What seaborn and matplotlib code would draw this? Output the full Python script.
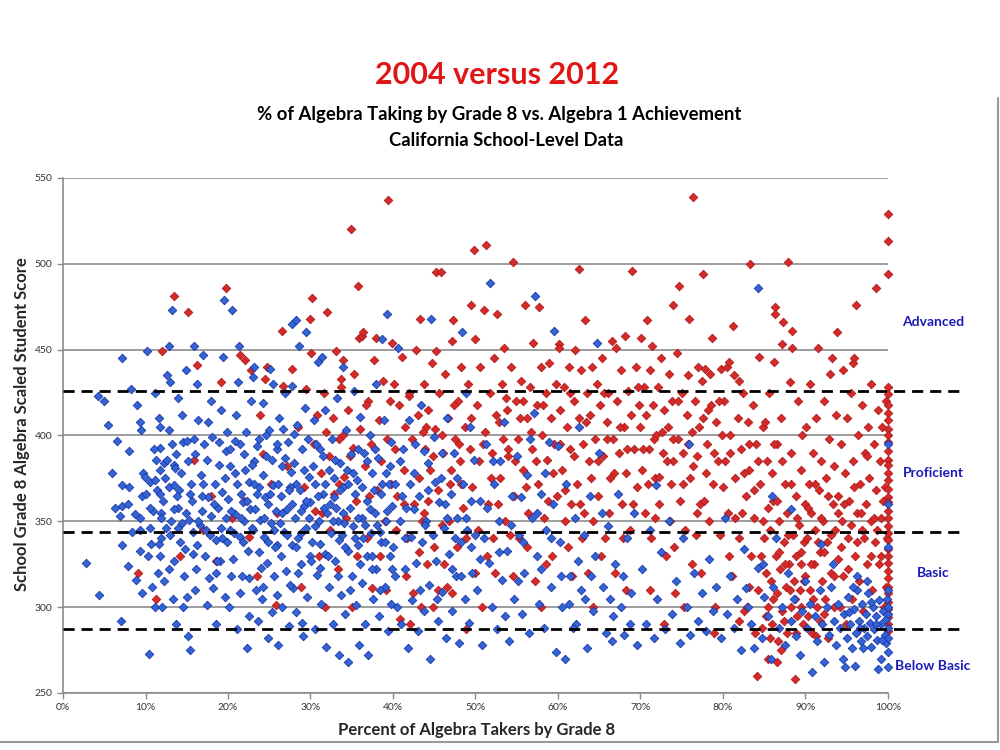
import numpy as np
import pandas as pd
import matplotlib
matplotlib.use("Agg")
import matplotlib.pyplot as plt
from matplotlib.lines import Line2D
from matplotlib.ticker import FuncFormatter
import seaborn as sns

# 2004 schools (blue), (percent taking algebra by grade 8, mean scaled score)
blue_0_10 = [(2.8,326),(4.4,307),(4.2,423),(5.5,406),(5.9,378),(6.3,358),(6.9,353),(7.1,359),(7.2,371),(7.1,445),
             (7.1,336),(7.0,292),(8.0,391),(8.0,370),(7.9,360),(7.9,324),(8.7,354),(9.3,352),(9.3,408),(9.4,403),
             (9.3,345),(9.3,333),(9.6,365),(9.7,378),(9.9,376),(8.4,344),(9.0,418),(8.8,316),(6.6,397),(9.6,308),
             (5.0,420),(8.2,427)]
blue_10_20 = [(10.0,366),(10.2,449),(10.5,346),(10.7,337),(10.3,330),(10.5,373),(10.4,273),(10.8,312),(11.1,374),(11.4,368),
              (11.3,386),(11.6,337),(11.7,330),(11.7,366),(11.8,405),(11.7,393),(11.8,380),(11.9,355),(11.9,352),(11.2,300),
              (11.5,320),(11.1,425),(12.3,384),(12.6,386),(12.6,435),(12.8,370),(12.8,403),(12.8,452),(12.2,315),(12.5,346),
              (12.0,300),(13.0,431),(13.2,395),(13.2,473),(13.4,371),(13.4,383),(13.6,381),(13.7,389),(13.0,342),(13.5,327),
              (13.9,358),(13.3,305),(14.1,368),(14.4,349),(14.2,338),(14.6,396),(14.9,438),(14.7,318),(14.4,412),(14.8,334),
              (15.0,397),(15.2,283),(15.4,275),(15.0,306),(15.3,351),(15.6,362),(15.9,452),(15.8,344),(15.5,372),(16.0,389),
              (16.2,336),(16.4,409),(16.1,322),(16.7,377),(16.6,348),(16.9,356),(17.0,447),(17.1,395),(17.2,330),(17.4,301),
              (17.6,364),(17.8,342),(17.9,420),(17.5,386),(18.0,353),(18.2,311),(18.4,372),(18.1,399),(18.6,339),(18.8,358),
              (18.5,290),(18.9,383),(19.1,346),(19.0,327),(19.4,446),(19.5,479),(19.3,367),(19.6,306),(19.7,391),(19.8,352),
              (19.2,415),(19.9,338),(16.3,430),(17.7,317),(14.0,422),(13.7,290)]
blue_20_30 = [(20.0,363),(20.2,345),(20.5,473),(20.3,392),(20.1,300),(20.6,328),(20.8,378),(20.9,354),(21.0,412),(21.2,431),
              (21.3,452),(21.1,287),(21.4,341),(21.6,366),(21.7,318),(21.9,389),(22.0,350),(22.2,402),(22.3,276),(22.4,333),
              (22.5,373),(22.7,357),(22.6,295),(22.8,420),(23.0,434),(23.1,440),(23.0,345),(23.2,385),(23.4,310),(23.5,366),
              (23.7,332),(23.8,398),(23.9,351),(24.1,305),(24.2,377),(24.4,341),(24.3,419),(24.6,388),(24.8,282),(24.7,326),
              (24.9,360),(25.1,439),(25.0,403),(25.2,349),(25.3,297),(25.5,430),(25.4,371),(25.6,318),(25.8,356),(25.9,392),
              (26.0,336),(26.1,278),(26.2,410),(26.4,365),(26.5,300),(26.6,382),(26.8,344),(26.9,425),(27.0,321),(27.1,357),
              (27.3,396),(27.4,289),(27.5,370),(27.7,465),(27.8,429),(27.7,336),(27.9,311),(28.0,384),(28.2,467),(28.1,352),
              (28.3,297),(28.4,406),(28.6,452),(28.5,340),(28.7,368),(28.9,325),(29.0,392),(29.1,283),(29.2,359),(29.4,460),
              (29.3,416),(29.5,346),(29.6,306),(29.8,376),(29.9,330),(29.7,398),(20.4,318),(21.8,361),(22.9,383),(24.5,364),
              (26.3,349),(27.6,379),(28.8,356),(23.6,292),(25.7,335),(21.5,395),(26.7,404),(29.0,291)]
blue_30_40 = [(30.0,361),(30.2,338),(30.4,409),(30.5,287),(30.6,372),(30.9,443),(30.8,319),(31.0,350),(31.2,392),(31.4,446),
              (31.3,302),(31.5,366),(31.7,331),(31.8,415),(31.9,277),(32.0,355),(32.2,380),(32.3,312),(32.5,343),(32.6,398),
              (32.7,290),(32.9,364),(33.0,327),(33.2,422),(33.3,350),(33.4,272),(33.6,384),(33.7,307),(33.9,440),(33.8,342),
              (34.0,370),(34.2,296),(34.3,403),(34.5,333),(34.6,268),(34.8,358),(34.9,389),(35.0,318),(35.2,347),(35.3,426),
              (35.5,301),(35.6,374),(35.8,336),(35.9,278),(36.0,411),(36.2,352),(36.3,314),(36.5,390),(36.6,290),(36.8,362),
              (36.9,330),(37.0,272),(37.2,400),(37.3,343),(37.5,378),(37.6,305),(37.8,355),(37.9,430),(38.0,322),(38.2,387),
              (38.3,295),(38.5,366),(38.7,456),(38.6,338),(38.9,409),(39.0,312),(39.1,350),(39.3,471),(39.2,378),(39.4,286),
              (39.6,330),(39.7,396),(39.9,359),(39.8,302),(30.7,395),(31.6,358),(32.8,375),(33.5,339),(34.4,380),(35.4,366),
              (36.4,340),(37.4,322),(38.4,344),(39.5,372),(31.1,323),(33.1,358),(35.7,352),(37.7,368),(34.1,349)]
blue_dense_10_40 = [(10.9,356),(11.0,392),(11.6,410),(12.1,362),(12.4,375),(12.9,322),(13.1,350),(13.8,365),(14.3,378),(14.5,300),
                    (14.9,355),(15.1,385),(15.7,331),(15.9,398),(16.4,350),(16.8,365),(17.3,345),(17.6,408),(18.3,360),(18.7,327),
                    (18.9,396),(19.3,340),(19.6,375),(19.9,402),(20.2,382),(20.4,356),(20.7,343),(20.9,397),(21.1,372),(21.4,308),
                    (21.8,338),(22.1,380),(22.3,362),(22.6,317),(22.9,346),(23.3,357),(23.5,394),(23.8,370),(24.0,323),(24.4,352),
                    (24.6,400),(24.8,338),(25.1,366),(25.3,386),(25.6,345),(25.9,307),(26.1,372),(26.4,330),(26.6,355),(26.9,387),
                    (27.2,342),(27.5,313),(27.8,360),(28.0,401),(28.3,372),(28.5,320),(28.9,343),(29.2,380),(29.5,362),(29.8,352),
                    (30.1,327),(30.3,382),(30.6,347),(30.9,365),(31.2,337),(31.5,388),(31.8,372),(32.1,330),(32.4,360),(32.7,350),
                    (33.0,386),(33.3,318),(33.6,368),(33.9,355),(34.2,335),(34.5,372),(34.8,310),(35.1,378),(35.4,340),(35.7,392),
                    (36.0,325),(36.3,370),(36.6,348),(36.9,385),(37.2,357),(37.5,330),(37.8,392),(38.1,348),(38.4,310),(38.7,372),
                    (39.0,338),(39.3,356),(39.6,382),(39.9,322),(17.0,372),(18.5,320),(14.0,346),(11.9,340),(16.0,310),(13.4,357),
                    (10.6,358),(15.4,366),(21.6,352),(23.1,372),(26.0,395),(27.4,368),(28.2,335),(24.2,312)]
blue_40_50 = [(40.0,335),(40.3,372),(40.6,451),(40.5,300),(40.8,350),(41.0,290),(41.2,392),(41.4,322),(41.6,358),(41.8,276),
              (42.0,409),(42.2,341),(42.3,304),(42.6,378),(42.8,326),(43.0,286),(43.2,365),(43.4,418),(43.5,338),(43.8,298),
              (44.0,350),(44.2,384),(44.4,313),(44.6,468),(44.5,270),(44.8,342),(45.0,399),(45.2,327),(45.4,292),(45.6,361),
              (45.8,375),(46.0,309),(46.2,346),(46.4,282),(46.6,410),(46.8,331),(47.0,366),(47.2,298),(47.4,390),(47.6,318),
              (47.8,352),(48.0,279),(48.2,338),(48.4,460),(48.5,372),(48.7,305),(48.9,425),(49.0,345),(49.2,291),(49.4,362),
              (49.6,320),(49.8,386),(41.1,365),(42.5,357),(43.7,391),(45.1,373),(46.3,360),(47.5,340),(49.5,335)]
blue_extra_40_70 = [(40.2,318),(40.9,385),(41.5,340),(42.1,372),(42.7,395),(43.3,310),(43.9,348),(44.3,368),(45.3,305),(45.9,390),
                    (46.5,352),(47.1,322),(47.7,375),(48.3,318),(48.8,352),(49.3,405),(50.0,342),(50.6,328),(51.4,358),(52.1,385),
                    (52.8,332),(53.6,295),(54.3,348),(55.1,315),(55.8,338),(56.6,398),(57.5,355),(58.4,378),(59.1,340),(60.4,318),
                    (61.3,302),(62.2,290),(63.3,305),(64.0,318),(65.3,355),(66.7,295),(67.9,318),(68.7,290)]
blue_50_60 = [(50.2,310),(50.5,362),(50.8,278),(51.0,340),(51.3,395),(51.7,489),(51.6,326),(52.0,300),(52.3,372),(52.6,287),
              (52.9,350),(53.2,316),(53.5,408),(53.8,333),(54.1,280),(54.4,365),(54.7,305),(55.0,388),(55.3,342),(55.6,296),
              (55.9,320),(56.2,377),(56.5,285),(56.8,352),(57.2,481),(57.1,413),(57.4,330),(57.7,302),(58.0,366),(58.3,288),
              (58.6,345),(58.9,396),(59.2,312),(59.5,461),(59.4,360),(59.8,274),(53.0,385),(55.5,364),(57.9,322)]
blue_60_70 = [(60.2,338),(60.5,300),(60.8,270),(61.0,372),(61.4,318),(61.8,288),(62.1,352),(62.5,405),(62.8,310),(63.1,342),
              (63.5,276),(63.9,365),(64.2,298),(64.7,454),(64.5,330),(65.0,390),(65.4,312),(65.8,285),(66.1,347),(66.5,280),
              (66.9,325),(67.3,366),(67.6,300),(68.0,284),(68.4,340),(68.8,308),(69.2,355),(69.6,278),(60.0,394),(62.4,327),
              (66.3,305)]
blue_70_80 = [(70.2,322),(70.7,290),(71.1,345),(71.6,282),(72.0,305),(72.5,332),(73.0,287),(73.4,350),(73.8,296),(74.3,315),
              (74.8,279),(75.2,340),(75.6,300),(76.0,284),(76.5,320),(77.0,292),(77.4,308),(77.9,286),(78.3,328),(78.8,298),
              (79.2,312),(79.7,282),(75.9,395),(71.9,371)]
blue_80_90 = [(80.2,352),(80.5,296),(80.9,318),(81.3,288),(81.7,305),(82.2,275),(82.5,334),(83.0,300),(83.4,290),(83.8,276),
              (84.2,486),(84.3,323),(84.7,282),(85.0,306),(85.4,295),(85.8,270),(86.1,312),(86.4,340),(86.8,288),(87.2,300),
              (87.5,278),(87.9,320),(88.2,292),(88.6,305),(88.9,283),(89.3,272),(89.6,298),(89.9,315),(85.9,365),(88.3,357),
              (82.8,311),(84.9,325)]
blue_90_100 = [(90.2,288),(90.5,302),(90.8,262),(91.1,295),(91.4,280),(91.7,310),(92.0,290),(92.3,268),(92.6,300),(92.9,284),
               (93.1,312),(93.4,292),(93.7,278),(94.0,302),(94.2,288),(94.5,270),(94.7,296),(95.0,282),(95.2,306),(95.4,290),
               (95.6,276),(95.9,299),(96.1,285),(96.3,310),(96.5,292),(96.7,280),(96.9,302),(97.1,288),(97.3,296),(97.5,283),
               (97.6,308),(97.8,291),(98.0,277),(98.2,300),(98.3,287),(98.5,295),(98.7,281),(98.9,304),(99.1,290),(99.2,270),
               (99.4,298),(99.6,284),(99.7,293),(99.8,279),(99.9,305),(100,288),(100,296),(100,282),(100,300),(100,274),
               (100,310),(100,265),(100,335),(100,360),(100,395),(94.8,265),(96.0,266),(98.8,264),(97.4,315),(93.3,325),
               (91.9,337),(95.3,297),(96.6,288),(97.9,303),(98.6,290),(99.3,281),(96.2,318),(97.0,276),(95.7,312)]

# 2012 schools (red)
red_0_30 = [(9.1,320),(11.3,305),(12.0,449),(13.5,481),(15.1,472),(16.2,441),(15.9,386),(17.0,345),(18.6,327),(19.2,431),
            (19.8,486),(21.5,447),(22.1,444),(22.8,438),(24.5,433),(24.7,440),(21.9,362),(23.5,318),(24.2,389),(25.8,301),
            (26.5,461),(26.7,429),(27.8,439),(28.5,405),(29.5,427),(22.6,341),(26.0,355),(27.2,382),(28.9,312),(29.2,370),
            (20.5,352),(25.2,372),(23.9,412),(18.0,365),(14.2,330)]
red_30_40 = [(30.0,468),(30.1,448),(30.2,480),(30.4,395),(30.6,356),(30.8,412),(31.0,330),(31.3,378),(31.6,425),(31.8,300),
             (32.0,472),(32.2,388),(32.4,345),(32.7,410),(32.9,366),(33.1,449),(33.3,322),(33.5,398),(33.7,433),(33.7,428),
             (33.9,444),(34.1,376),(34.3,352),(34.6,415),(34.9,520),(34.8,388),(35.0,300),(35.3,436),(35.5,362),(35.8,487),
             (35.9,457),(36.0,404),(36.2,458),(36.4,460),(36.6,382),(36.8,340),(37.0,420),(37.3,395),(37.5,311),(37.7,444),
             (37.9,457),(38.1,368),(38.3,409),(38.6,385),(38.8,432),(39.0,350),(39.4,537),(39.3,398),(39.6,420),(39.9,454),
             (39.8,372),(31.9,402),(34.0,400),(36.7,418),(38.4,330),(35.2,393)]
red_40_50 = [(40.1,430),(40.3,392),(40.5,365),(40.7,418),(40.9,293),(41.1,446),(41.3,380),(41.5,405),(41.7,340),(41.9,423),
             (42.1,290),(42.3,398),(42.5,360),(42.8,450),(43.0,412),(43.2,375),(43.3,468),(43.5,350),(43.7,430),(43.9,392),
             (44.1,325),(44.3,415),(44.5,380),(44.7,442),(44.9,300),(45.1,404),(45.2,449),(45.2,495),(45.8,495),(45.4,368),
             (45.6,425),(45.9,348),(46.1,390),(46.3,436),(46.5,312),(46.7,410),(46.9,372),(47.1,455),(47.3,467),(47.5,398),
             (47.7,335),(47.9,420),(48.1,385),(48.3,440),(48.5,358),(48.7,405),(48.9,287),(49.1,430),(49.4,476),(49.3,392),
             (49.6,370),(49.8,508),(50.0,456),(42.0,425),(44.0,405),(46.0,400),(48.0,395),(43.8,355),(47.0,380)]
red_50_60 = [(50.2,418),(50.4,385),(50.6,440),(50.8,300),(51.0,473),(51.3,511),(51.2,402),(51.5,360),(51.8,425),(52.0,390),
             (52.2,445),(52.4,320),(52.6,471),(52.8,408),(53.0,375),(53.2,430),(53.4,451),(53.6,350),(53.8,415),(54.0,392),
             (54.3,440),(54.5,501),(54.7,365),(54.9,420),(55.1,398),(55.3,340),(55.5,432),(55.7,380),(56.0,476),(56.2,410),
             (56.4,355),(56.6,428),(56.8,392),(57.0,454),(57.2,315),(57.4,418),(57.7,475),(57.6,372),(57.9,440),(58.1,400),
             (58.3,352),(58.5,425),(58.7,386),(58.9,442),(59.1,410),(59.3,330),(59.5,395),(59.7,430),(59.9,365),(52.5,412),
             (55.8,420),(53.9,388),(58.0,300)]
red_60_70 = [(60.1,453),(60.1,451),(60.3,415),(60.5,380),(60.7,428),(60.9,350),(61.1,405),(61.3,440),(61.5,392),(61.7,318),
             (61.9,420),(62.1,450),(62.3,372),(62.6,497),(62.5,410),(62.8,438),(63.0,395),(63.3,467),(63.2,355),(63.5,425),
             (63.7,385),(63.9,412),(64.1,440),(64.3,300),(64.5,398),(64.7,430),(64.9,365),(65.1,418),(65.3,445),(65.5,388),
             (65.7,340),(65.9,408),(66.1,425),(66.3,375),(66.5,455),(66.7,398),(67.0,451),(66.9,320),(67.2,420),(67.4,390),
             (67.6,438),(67.8,360),(68.1,458),(68.0,405),(68.3,378),(68.5,426),(68.7,345),(69.0,496),(68.9,412),(69.2,392),
             (69.4,440),(69.6,370),(69.8,418),(61.6,360),(64.0,375),(66.0,398),(68.2,310),(62.9,340)]
red_70_80 = [(70.0,405),(70.1,457),(70.2,380),(70.4,428),(70.6,355),(70.8,467),(70.7,412),(71.0,392),(71.2,438),(71.4,452),
             (71.3,340),(71.5,418),(71.7,375),(71.9,400),(72.1,428),(72.3,360),(72.5,445),(72.7,390),(72.9,415),(73.1,330),
             (73.3,405),(73.5,436),(73.7,372),(73.9,476),(73.8,420),(74.0,385),(74.2,308),(74.4,448),(74.7,487),(74.6,398),
             (74.8,362),(75.0,425),(75.2,390),(75.4,345),(75.6,412),(75.9,468),(75.8,435),(76.0,375),(76.2,402),(76.4,539),
             (76.3,325),(76.6,420),(76.8,388),(77.0,440),(77.2,360),(77.5,432),(77.6,494),(77.6,410),(77.8,439),(77.9,378),
             (78.1,395),(78.4,436),(78.3,350),(78.7,457),(78.6,418),(78.8,372),(79.0,300),(79.2,408),(79.4,385),(79.7,439),
             (79.6,342),(79.9,400),(71.1,310),(72.8,290),(75.3,300),(77.3,320),(78.9,285),(73.6,350),(76.9,355)]
red_80_90 = [(80.1,420),(80.5,440),(80.7,443),(80.3,385),(80.6,355),(80.9,400),(81.2,464),(81.3,435),(81.1,318),(81.5,375),
             (81.8,410),(82.0,340),(82.2,392),(82.4,425),(82.6,298),(82.8,365),(83.0,408),(83.3,500),(83.2,380),(83.4,330),
             (83.6,418),(83.8,352),(84.0,395),(84.4,446),(84.2,310),(84.5,372),(84.7,288),(84.9,405),(85.0,340),(85.2,320),
             (85.3,385),(85.5,300),(85.6,425),(85.7,345),(85.8,315),(86.0,290),(86.1,362),(86.3,475),(86.3,471),(86.2,443),
             (86.4,330),(86.5,395),(86.6,308),(86.7,280),(86.8,350),(86.9,322),(87.1,453),(87.0,410),(87.2,298),(87.3,466),
             (87.4,338),(87.5,372),(87.6,312),(87.7,285),(87.9,501),(87.8,355),(88.0,325),(88.1,431),(88.2,300),(88.4,461),
             (88.4,451),(88.3,390),(88.5,342),(88.6,315),(88.7,258),(88.8,365),(88.9,330),(89.0,295),(89.1,420),(89.2,348),
             (89.3,310),(89.4,380),(89.5,325),(89.6,400),(89.7,290),(89.8,338),(89.9,360),(85.4,270),(86.5,268),(87.0,275),
             (84.1,260),(83.9,285),(82.9,300),(81.9,292)]
red_90_100 = [(90.0,318),(90.1,405),(90.2,340),(90.3,295),(90.4,372),(90.5,430),(90.6,310),(90.7,355),(90.8,285),(90.9,390),
              (91.0,325),(91.2,345),(91.3,410),(91.5,451),(91.4,300),(91.6,368),(91.7,332),(91.8,292),(91.9,385),(92.0,315),
              (92.1,350),(92.3,420),(92.4,305),(92.5,375),(92.6,338),(92.7,282),(92.8,398),(93.0,436),(93.2,445),(93.1,320),
              (93.3,360),(93.4,300),(93.5,382),(93.6,345),(93.8,460),(93.7,412),(93.9,328),(94.0,365),(94.2,300),(94.3,395),
              (94.5,438),(94.4,350),(94.6,318),(94.8,378),(94.9,290),(95.0,410),(95.2,340),(95.3,362),(95.5,425),(95.6,305),
              (95.8,442),(95.9,445),(95.7,385),(96.1,476),(96.0,330),(96.2,355),(96.4,400),(96.5,315),(96.6,372),(96.8,418),
              (96.9,345),(97.0,298),(97.2,390),(97.3,360),(97.4,325),(97.6,405),(97.7,375),(97.9,350),(98.0,430),(98.1,310),
              (98.3,395),(98.5,486),(98.4,338),(98.6,368),(98.8,415),(98.9,325),(99.0,385),(99.2,352),(99.3,405),(99.5,300),
              (99.6,370),(99.8,420),(99.9,340)]
red_dense_30_100 = [(40.4,345),(41.6,318),(42.4,308),(43.1,332),(43.6,402),(44.2,362),(44.8,388),(45.5,310),(46.2,325),(46.8,350),
                    (47.4,418),(48.2,372),(48.8,340),(49.5,410),(50.3,345),(50.9,395),(51.4,330),(51.9,375),(52.7,360),(53.3,398),
                    (53.7,422),(54.2,342),(54.8,385),(55.4,410),(56.1,370),(56.7,402),(57.3,385),(58.2,418),(58.8,362),(59.4,378),
                    (60.2,395),(60.8,368),(61.4,425),(62.0,388),(62.7,360),(63.4,408),(64.2,350),(64.8,385),(65.6,425),(66.2,355),
                    (66.8,378),(67.5,405),(68.4,392),(69.1,360),(69.7,428),(70.3,392),(70.9,372),(71.6,398),(72.2,376),(72.6,402),
                    (73.2,385),(73.9,398),(74.5,420),(75.1,372),(75.7,395),(76.4,382),(77.1,405),(77.7,362),(78.2,415),(78.9,390),
                    (79.5,420),(80.0,370),(80.8,390),(81.4,352),(81.9,432),(82.5,378),(83.1,395),(83.7,368),(84.3,385),(84.8,350),
                    (85.1,408),(85.5,358),(85.9,378),(86.2,395),(86.6,362),(87.1,385),(87.5,325),(87.9,342),(88.3,372),(88.7,305),
                    (89.0,352),(89.4,332),(89.8,315),(90.3,358),(90.7,325),(91.1,372),(91.5,338),(91.9,352),(92.3,332),(92.7,365),
                    (93.1,342),(93.5,318),(93.9,355),(94.3,335),(94.7,360),(95.1,322),(95.5,348),(95.9,370),(96.3,338),(96.7,355),
                    (97.1,340),(97.5,388),(97.9,330),(98.3,352),(98.7,345),(99.1,330),(99.4,362),(99.7,312),(85.2,295),(86.1,305),
                    (87.4,292),(88.1,310),(89.5,300),(90.9,305),(92.2,296),(86.8,332),(88.9,285),(91.3,283),(85.7,282),(84.6,330),
                    (83.2,312),(80.7,330),(82.3,355),(76.7,342),(74.1,335),(71.8,352),(67.9,340),(65.2,330),(63.6,320),(61.2,335),
                    (58.5,325),(56.3,335),(54.6,318),(52.1,340),(49.9,320),(47.2,308),(45.0,335),(43.4,300),(41.3,360),(39.2,310),
                    (37.1,365),(35.6,330),(33.4,372),(31.4,355)]
red_100 = [(100,529),(100,513),(100,494),(100,428),(100,424),(100,418),(100,413),(100,409),(100,404),(100,400),(100,396),
           (100,391),(100,386),(100,383),(100,378),(100,374),(100,369),(100,364),(100,361),(100,356),(100,352),(100,347),
           (100,343),(100,339),(100,334),(100,330),(100,326),(100,321),(100,317),(100,312),(100,308),(100,303),(100,299),
           (100,294),(100,290),(100,286)]

# performance level cut scores and labels
cut_scores = [426, 344, 287]
level_labels = ["Advanced", "Proficient", "Basic", "Below Basic"]
level_label_y = [466, 378, 320, 266]

blue = pd.DataFrame(blue_0_10 + blue_10_20 + blue_20_30 + blue_30_40 + blue_dense_10_40 + blue_40_50 +
                    blue_extra_40_70 + blue_50_60 + blue_60_70 + blue_70_80 + blue_80_90 + blue_90_100,
                    columns=["pct", "score"])
red = pd.DataFrame(red_0_30 + red_30_40 + red_40_50 + red_50_60 + red_60_70 + red_70_80 +
                   red_80_90 + red_90_100 + red_dense_30_100 + red_100, columns=["pct", "score"])

sns.set_style("white")
plt.rcParams["font.family"] = ["Lato", "DejaVu Sans"]

fig = plt.figure(figsize=(10, 7.5), dpi=100)
ax = fig.add_axes([0.063, 0.076, 0.825, 0.6867])

sns.scatterplot(data=red, x="pct", y="score", ax=ax, marker="D", s=19, color="#d42a2a",
                edgecolor="#b01c1c", linewidth=0.6, clip_on=False, zorder=3)
sns.scatterplot(data=blue, x="pct", y="score", ax=ax, marker="D", s=19, color="#3464d4",
                edgecolor="#1a36a8", linewidth=0.6, clip_on=False, zorder=4)

ax.set_xlim(0, 100)
ax.set_ylim(250, 550)
ax.set_xticks(np.arange(0, 101, 10))
ax.set_yticks(np.arange(250, 551, 50))
ax.xaxis.set_major_formatter(FuncFormatter(lambda v, p: f"{int(v)}%"))
ax.grid(axis="y", color="#8c8c8c", linewidth=1.2)
ax.grid(axis="x", visible=False)
for side in ["top", "right"]:
    ax.spines[side].set_visible(False)
for side in ["left", "bottom"]:
    ax.spines[side].set_color("#8c8c8c")
    ax.spines[side].set_linewidth(1.2)
ax.tick_params(axis="both", which="major", length=4, width=1, color="#8c8c8c",
               labelsize=7.5, labelcolor="#333333", direction="out", left=True, bottom=True)
ax.set_xlabel("")
ax.set_ylabel("")

for c in cut_scores:
    ax.axhline(c, xmin=0, xmax=1.09, color="black", linewidth=2, dashes=(4, 2.5),
               clip_on=False, zorder=5)

tr = ax.get_yaxis_transform()
for lab, yv in zip(level_labels, level_label_y):
    ax.text(1.0545, yv, lab, transform=tr, ha="center", va="center",
            fontsize=10, fontweight="bold", color="#1a1ab8")

fig.text(0.497, 0.9, "2004 versus 2012", ha="center", va="center", fontsize=22,
         fontweight="bold", color="#e01515")
fig.text(0.4995, 0.8467, "% of Algebra Taking by Grade 8 vs. Algebra 1 Achievement",
         ha="center", va="center", fontsize=13.3, fontweight="bold", color="black")
fig.text(0.5065, 0.812, "California School-Level Data", ha="center", va="center",
         fontsize=13.3, fontweight="bold", color="black")
fig.text(0.022, 0.4347, "School Grade 8 Algebra Scaled Student Score", rotation=90,
         ha="center", va="center", fontsize=12, fontweight="bold")
fig.text(0.477, 0.0267, "Percent of Algebra Takers by Grade 8", ha="center", va="center",
         fontsize=12, fontweight="bold")

# slide frame edges
fig.add_artist(Line2D([0.998, 0.998], [0.869, 0.0105], transform=fig.transFigure,
                      color="#9a9a9a", linewidth=1.5))
fig.add_artist(Line2D([0.0, 0.998], [0.0105, 0.0105], transform=fig.transFigure,
                      color="#9a9a9a", linewidth=1.5))

fig.savefig("out.png", dpi=100)
